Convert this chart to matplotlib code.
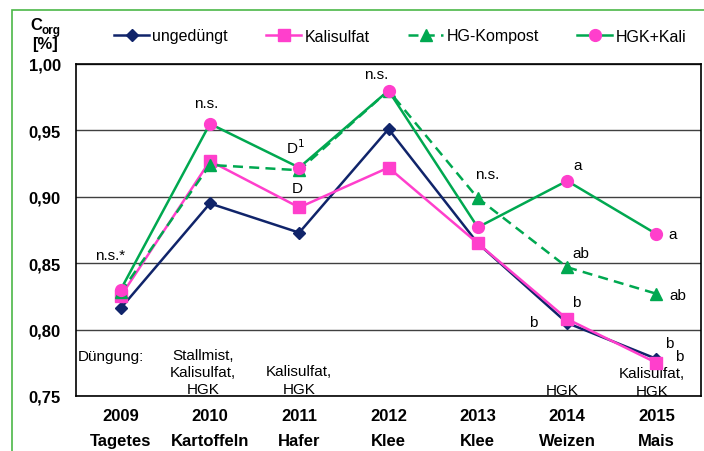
import numpy as np
import matplotlib.pyplot as plt
from matplotlib.patches import Rectangle

plt.rcParams['font.family'] = ['Liberation Sans', 'DejaVu Sans']

# Data
years = ['2009', '2010', '2011', '2012', '2013', '2014', '2015']
crops = ['Tagetes', 'Kartoffeln', 'Hafer', 'Klee', 'Klee', 'Weizen', 'Mais']
ungeduengt = [0.816, 0.895, 0.873, 0.951, 0.865, 0.805, 0.778]
kalisulfat = [0.825, 0.927, 0.892, 0.922, 0.865, 0.808, 0.775]
hg_kompost = [0.828, 0.924, 0.920, 0.980, 0.899, 0.847, 0.827]
hgk_kali = [0.830, 0.955, 0.922, 0.980, 0.877, 0.912, 0.872]

navy = '#10246A'
pink = '#FF3FCC'
green = '#00A850'

fig = plt.figure(figsize=(7.04, 4.52), dpi=100)
ax = fig.add_axes([76/704, 1-397/452, 625/704, 332/452])
x = np.arange(len(years))

ax.plot(x, ungeduengt, color=navy, lw=1.8, marker='D', ms=6.5, mfc=navy, mec=navy, label='ungedüngt', zorder=3)
ax.plot(x, kalisulfat, color=pink, lw=1.8, marker='s', ms=8, mfc=pink, mec=pink, label='Kalisulfat', zorder=4)
ax.plot(x, hg_kompost, color=green, lw=1.8, ls=(0, (4, 2.5)), marker='^', ms=8.5, mfc=green, mec=green, label='HG-Kompost', zorder=5)
ax.plot(x, hgk_kali, color=green, lw=1.8, marker='o', ms=8.5, mfc=pink, mec=pink, label='HGK+Kali', zorder=6)

ax.set_xlim(-0.5, 6.5)
ax.set_ylim(0.75, 1.0)
ax.set_yticks([0.75, 0.80, 0.85, 0.90, 0.95, 1.00])
ax.set_yticklabels(['0,75', '0,80', '0,85', '0,90', '0,95', '1,00'], fontsize=12, fontweight='bold')
ax.set_xticks(x)
ax.set_xticklabels([])
ax.tick_params(axis='both', length=0, pad=11)
ax.grid(axis='y', color='#404040', lw=1)
ax.set_axisbelow(True)
for s in ax.spines.values():
    s.set_color('black')
    s.set_linewidth(1.2)

# x labels: year and crop
tr = ax.get_xaxis_transform()
for xi, yr, cr in zip(x, years, crops):
    ax.text(xi, -0.0602, yr, transform=tr, ha='center', va='center', fontsize=12, fontweight='bold')
    ax.text(xi, -0.134, cr, transform=tr, ha='center', va='center', fontsize=12, fontweight='bold')

# y label
fig.text(36/704, 1-25/452, 'C', ha='center', va='center', fontsize=12, fontweight='bold')
fig.text(51/704, 1-31/452, 'org', ha='center', va='center', fontsize=8.5, fontweight='bold')
fig.text(45/704, 1-45/452, '[%]', ha='center', va='center', fontsize=12, fontweight='bold')

# annotations
ann = [
    (-0.12, 0.856, 'n.s.*'), (0.956, 0.971, 'n.s.'), (1.96, 0.9375, 'D$^1$'), (1.975, 0.907, 'D'),
    (2.86, 0.9925, 'n.s.'), (4.10, 0.917, 'n.s.'), (5.12, 0.924, 'a'), (5.155, 0.858, 'ab'),
    (5.10, 0.821, 'b'), (4.62, 0.806, 'b'), (6.185, 0.872, 'a'), (6.24, 0.826, 'ab'),
    (6.14, 0.790, 'b'), (6.26, 0.780, 'b'),
]
for xa, ya, t in ann:
    ax.text(xa, ya, t, ha='center', va='center', fontsize=11)

ax.text(-0.478, 0.780, 'Düngung:', ha='left', va='center', fontsize=11)
ax.text(0.922, 0.768, 'Stallmist,\nKalisulfat,\nHGK', ha='center', va='center', fontsize=11, linespacing=1.3)
ax.text(2.0, 0.762, 'Kalisulfat,\nHGK', ha='center', va='center', fontsize=11, linespacing=1.3)
ax.text(4.95, 0.7545, 'HGK', ha='center', va='center', fontsize=11)
ax.text(5.95, 0.7605, 'Kalisulfat,\nHGK', ha='center', va='center', fontsize=11, linespacing=1.3)

leg = fig.legend(loc='center left', bbox_to_anchor=(114/704, 1-37/452), ncol=4, frameon=False, fontsize=11.5,
                 handlelength=2.2, columnspacing=2.4, handletextpad=0.2, borderaxespad=0, borderpad=0)

# outer green frame
fig.patches.append(Rectangle((12/704, -0.1), 1.2, 1-11/452+0.1, transform=fig.transFigure,
                             fill=False, edgecolor='#4CB848', lw=1.2))

fig.savefig('out.png', dpi=100)
